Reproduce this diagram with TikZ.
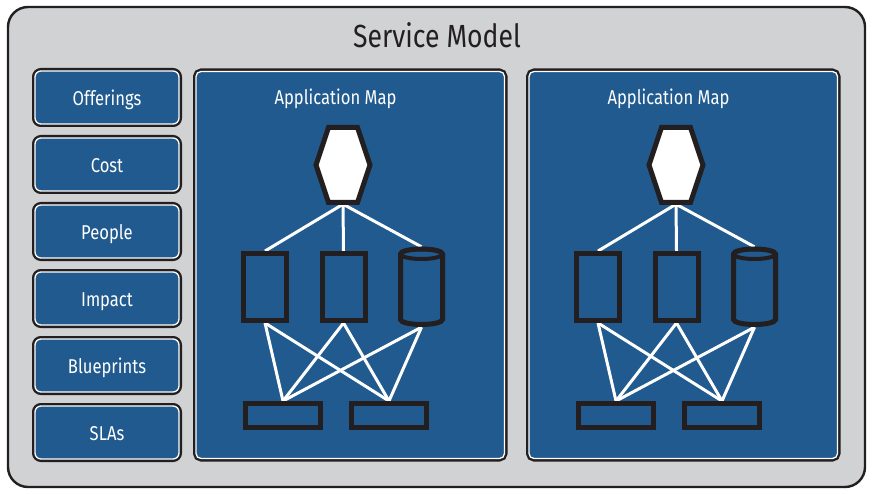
\documentclass[tikz,border=0pt]{standalone}
\usepackage{fontspec}
\setmainfont{Fira Sans}[FakeStretch=0.83]
\definecolor{smblue}{HTML}{205A8E}
\definecolor{smgray}{HTML}{D1D2D4}
\definecolor{smdark}{HTML}{231F20}
\tikzset{
  panel/.style={rectangle, rounded corners=6pt, fill=smblue, draw=white, line width=1.3pt,
    preaction={draw=smdark, line width=6pt}, inner sep=0pt, text=white},
  sidebox/.style={panel, minimum width=144pt, minimum height=53pt, text height=18.4pt, text depth=2pt, font=\fontsize{20}{22}\selectfont},
  mapbox/.style={panel, rounded corners=5pt},
  comp/.style={rectangle, draw=smdark, line width=5pt, inner sep=0pt, fill=smblue},
  tallbox/.style={comp, minimum width=43pt, minimum height=67pt},
  widebox/.style={comp, minimum width=75pt, minimum height=24pt},
  link/.style={draw=white, line width=3pt},
  hexa/.style={draw=smdark, line width=5pt, fill=white, line join=miter},
  cylbody/.style={draw=smdark, line width=5pt, fill=smblue},
}
\begin{document}
\begin{tikzpicture}[x=1pt,y=-1pt]
\useasboundingbox (0,0) rectangle (874,494);
% outer frame
\node (frame) [draw=smdark, fill=smgray, line width=2.4pt, rounded corners=20pt, minimum width=857pt, minimum height=480pt, inner sep=0pt] at (436.5,247) {};
\node (title) [anchor=base, text=smdark, font=\fontsize{32}{35}\selectfont] at (437,48) {Service Model};
% side boxes
\node (off) [sidebox] at (107,97.5) {Offerings};
\node (cost) [sidebox] at (107,164.5) {Cost};
\node (ppl) [sidebox] at (107,231.5) {People};
\node (imp) [sidebox] at (107,298.5) {Impact};
\node (blue) [sidebox] at (107,365.5) {Blueprints};
\node (sla) [sidebox] at (107,432.5) {SLAs};
% application maps
\foreach \n/\dx in {L/0, R/333}{
  \begin{scope}[xshift=\dx pt]
    \node (map\n) [mapbox, minimum width=308.5pt, minimum height=387pt] at (350.25,265) {};
    \node (mt\n) [anchor=base, text=white, font=\fontsize{20}{22}\selectfont] at (335.5,105) {Application Map};
    % hexagon
    \node (hex\n) [inner sep=0pt, minimum width=57pt, minimum height=78pt] at (343,165) {};
    % components
    \node (a\n) [tallbox] at (265,287) {};
    \node (b\n) [tallbox] at (343.5,287) {};
    \node (c\n) [inner sep=0pt, minimum width=47pt, minimum height=80pt] at (421.5,287) {};
    \node (d\n) [widebox] at (283,415.5) {};
    \node (e\n) [widebox] at (389,415.5) {};
    % links
    \draw[link] (hex\n.south) -- (a\n.north);
    \draw[link] (hex\n.south) -- (b\n.north);
    \draw[link] (hex\n.south) -- (c\n.north);
    \foreach \s in {a,b,c}{
      \draw[link] (\s\n.south) -- (d\n.north);
      \draw[link] (\s\n.south) -- (e\n.north);
    }
    % redraw shapes on top
    \node [tallbox] at (a\n) {};
    \node [tallbox] at (b\n) {};
    \node [widebox] at (d\n) {};
    \node [widebox] at (e\n) {};
    \draw[hexa] (328.5,127.5) -- (357.5,127.5) -- (370,165) -- (357.5,202.5) -- (328.5,202.5) -- (316,165) -- cycle;
    \draw[cylbody] (400.5,254) -- (400.5,319.5) arc[start angle=180, end angle=360, x radius=21pt, y radius=5pt] -- (442.5,254) arc[start angle=0, end angle=180, x radius=21pt, y radius=5pt] -- cycle;
    \draw[smdark, line width=4pt] (421.5,254) ellipse[x radius=21pt, y radius=5pt];
  \end{scope}
}
\end{tikzpicture}
\end{document}
